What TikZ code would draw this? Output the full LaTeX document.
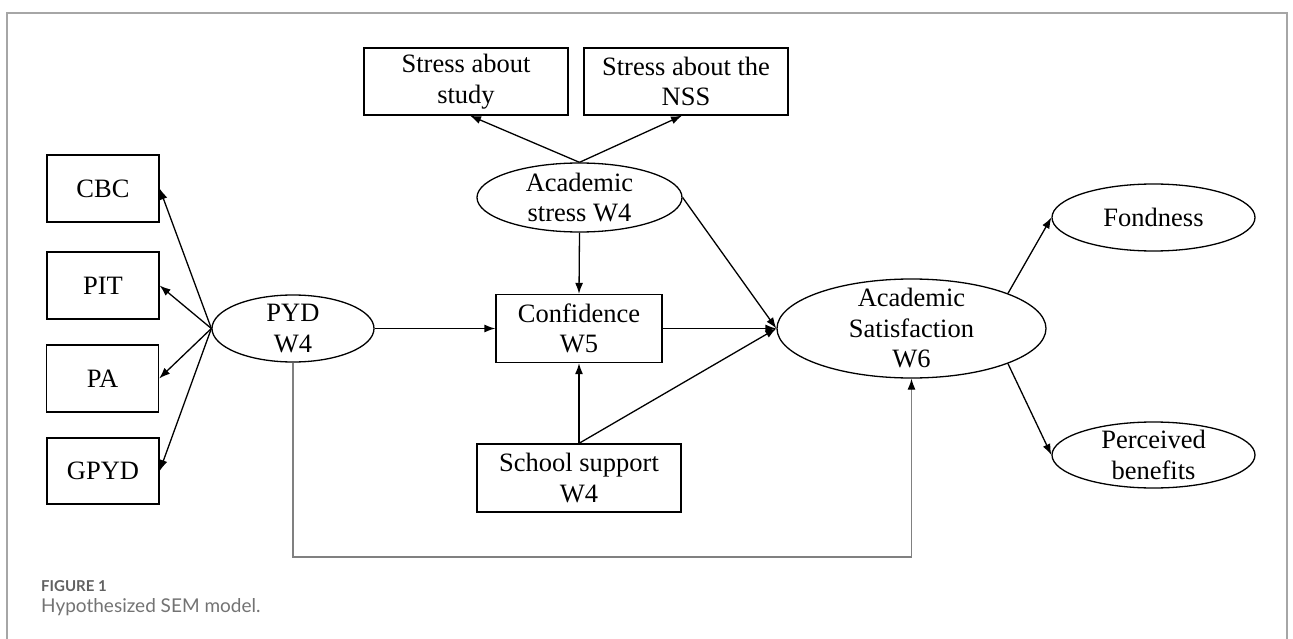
\documentclass[tikz,border=0pt]{standalone}
\usepackage{fontspec}
\setmainfont{Liberation Serif}
\newfontfamily\capfont{Lato}
\usetikzlibrary{shapes.geometric,arrows.meta}
\begin{document}
\begin{tikzpicture}[x=1pt,y=-1pt,
  every node/.style={font=\fontsize{26.5}{30.5}\selectfont},
  box/.style={draw, rectangle, line width=1.3pt, inner sep=0pt, align=center},
  lat/.style={draw, ellipse, line width=1.3pt, inner sep=0pt},
  arr/.style={line width=1.3pt, -{Latex[length=11pt,width=8pt]}},
  direct/.style={line width=1.3pt, draw=black!50, -{Latex[length=11pt,width=8pt,color=black]}},
  frame/.style={line width=1.5pt, draw=black!35},
  capA/.style={anchor=base west, inner sep=0pt, text=black!62, font=\capfont\bfseries\fontsize{15}{17}\selectfont},
  capB/.style={anchor=base west, inner sep=0pt, text=black!55, font=\capfont\fontsize{19}{22}\selectfont}]
\useasboundingbox (0,0) rectangle (1293,639);
\draw[frame] (7,639) -- (7,13) -- (1287,13) -- (1287,639);

% indicators
\node[box, minimum width=204pt, minimum height=67pt] (s1) at (466,81.5) {Stress about\\study};
\node[box, minimum width=204pt, minimum height=67pt] (s2) at (686,81.5) {Stress about the\\NSS};
\node[box, minimum width=112pt, minimum height=67pt] (cbc) at (103,188.5) {CBC};
\node[box, minimum width=112pt, minimum height=67pt] (pit) at (103,285.5) {PIT};
\node[box, minimum width=112pt, minimum height=67pt] (pa) at (102.5,378.5) {PA};
\node[box, minimum width=112pt, minimum height=66pt] (gpyd) at (103,471) {GPYD};

% latent / observed
\node[lat, minimum width=205pt, minimum height=69pt,
      label={[align=center]center:Academic\\stress W4}] (ast) at (579.5,197.5) {};
\node[lat, minimum width=162pt, minimum height=67pt,
      label={[align=center]center:PYD\\W4}] (pyd) at (293,328.5) {};
\node[box, minimum width=166pt, minimum height=68pt] (conf) at (579,328.5) {Confidence\\W5};
\node[box, minimum width=204pt, minimum height=68pt] (ss) at (579,478) {School support\\W4};
\node[lat, minimum width=269pt, minimum height=99pt,
      label={[align=center]center:Academic\\Satisfaction\\W6}] (as) at (911.5,328.5) {};
\node[lat, minimum width=203pt, minimum height=67pt,
      label={[align=center]center:Fondness}] (fond) at (1153.5,217.5) {};
\node[lat, minimum width=203pt, minimum height=66pt,
      label={[align=center]center:Perceived\\benefits}] (perc) at (1153.5,455) {};

% connectors
\draw[arr] (ast.north) -- ([xshift=4pt]s1.south);
\draw[arr] (ast.north) -- ([xshift=-4pt]s2.south);
\draw[arr] (pyd.west) -- (cbc.east);
\draw[arr] (pyd.west) -- (pit.east);
\draw[arr] (pyd.west) -- (pa.east);
\draw[arr] (pyd.west) -- (gpyd.east);
\draw[arr] (ast.south) -- (conf.north);
\draw[arr] (ast.east) -- (as.west);
\draw[arr] (pyd.east) -- (conf.west);
\draw[arr] (conf.east) -- (as.west);
\draw[arr] (ss.north) -- (conf.south);
\draw[arr] (ss.north) -- (as.west);
\draw[arr] (as.20) -- (fond.west);
\draw[arr] (as.-20) -- (perc.west);
\coordinate (loop) at (600,557);
\draw[direct] (pyd.south) |- (loop) -| (as.south);

% caption
\node[capA] (fig) at (41,591) {FIGURE 1};
\node[capB] (cap) at (41,612) {Hypothesized SEM model.};
\end{tikzpicture}
\end{document}
